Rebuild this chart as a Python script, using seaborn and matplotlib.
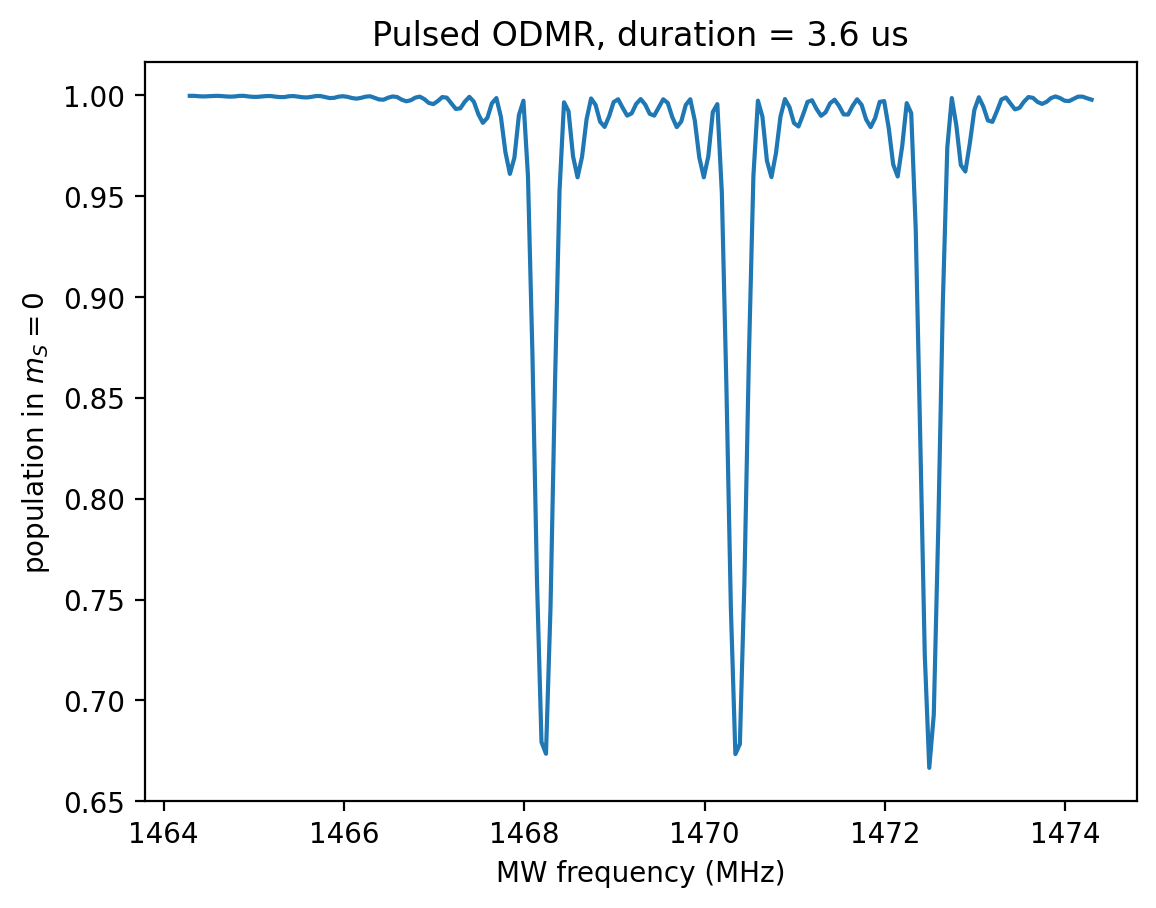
import numpy as np
import pandas as pd
import matplotlib
matplotlib.use("Agg")
import matplotlib.pyplot as plt
import seaborn as sns

# MW frequency grid (MHz): 201 samples from 1464.29 to 1474.29
freq_start = 1464.29
freq_stop = 1474.29
n_points = 201

# population in m_S = 0
population = [
    0.9998, 0.9998, 0.9996, 0.9995, 0.9996, 0.9997, 0.9998, 0.9997, 0.9995, 0.9994,
    0.9995, 0.9998, 0.9998, 0.9995, 0.9993, 0.9993, 0.9995, 0.9997, 0.9997, 0.9994,
    0.9992, 0.9992, 0.9996, 0.9997, 0.9994, 0.9991, 0.9990, 0.9993, 0.9997, 0.9997,
    0.9992, 0.9987, 0.9988, 0.9994, 0.9996, 0.9993, 0.9987, 0.9984, 0.9988, 0.9994,
    0.9996, 0.9988, 0.9980, 0.9979, 0.9989, 0.9995, 0.9992, 0.9979, 0.9971, 0.9976,
    0.9989, 0.9994, 0.9982, 0.9963, 0.9957, 0.9972, 0.9992, 0.9989, 0.9961, 0.9933,
    0.9936, 0.9969, 0.9993, 0.9969, 0.9907, 0.9864, 0.9889, 0.9961, 0.9987, 0.9894,
    0.9719, 0.9611, 0.9692, 0.9903, 0.9974, 0.9602, 0.8710, 0.7596, 0.6794, 0.6736,
    0.7458, 0.8572, 0.9526, 0.9966, 0.9922, 0.9698, 0.9594, 0.9696, 0.9882, 0.9985,
    0.9953, 0.9870, 0.9844, 0.9897, 0.9967, 0.9981, 0.9939, 0.9900, 0.9911, 0.9958,
    0.9982, 0.9955, 0.9909, 0.9900, 0.9940, 0.9981, 0.9963, 0.9893, 0.9843, 0.9871,
    0.9953, 0.9981, 0.9876, 0.9692, 0.9594, 0.9698, 0.9918, 0.9957, 0.9518, 0.8569,
    0.7459, 0.6734, 0.6784, 0.7584, 0.8702, 0.9601, 0.9974, 0.9895, 0.9676, 0.9595,
    0.9713, 0.9895, 0.9982, 0.9942, 0.9863, 0.9846, 0.9904, 0.9968, 0.9976, 0.9933,
    0.9899, 0.9916, 0.9961, 0.9979, 0.9948, 0.9906, 0.9905, 0.9948, 0.9981, 0.9953,
    0.9881, 0.9843, 0.9888, 0.9968, 0.9972, 0.9840, 0.9658, 0.9598, 0.9749, 0.9962,
    0.9912, 0.9337, 0.8301, 0.7230, 0.6666, 0.6929, 0.7856, 0.8962, 0.9742, 0.9987,
    0.9852, 0.9655, 0.9623, 0.9763, 0.9928, 0.9991, 0.9944, 0.9876, 0.9869, 0.9922,
    0.9980, 0.9990, 0.9960, 0.9931, 0.9938, 0.9969, 0.9992, 0.9988, 0.9968, 0.9958,
    0.9968, 0.9987, 0.9995, 0.9987, 0.9974, 0.9972, 0.9983, 0.9994, 0.9994, 0.9986,
    0.9979,
]

title_text = "Pulsed ODMR, duration = 3.6 us"
xlabel_text = "MW frequency (MHz)"
ylabel_text = "population in $m_S = 0$"

frequency = np.linspace(freq_start, freq_stop, n_points)
df = pd.DataFrame({"freq": frequency, "pop": population})

fig, ax = plt.subplots(figsize=(6.4, 4.8))
sns.lineplot(data=df, x="freq", y="pop", ax=ax, color="#1f77b4", linewidth=1.5)
ax.set_title(title_text)
ax.set_xlabel(xlabel_text)
ax.set_ylabel(ylabel_text)

fig.savefig("out.png", dpi=200, bbox_inches="tight")
